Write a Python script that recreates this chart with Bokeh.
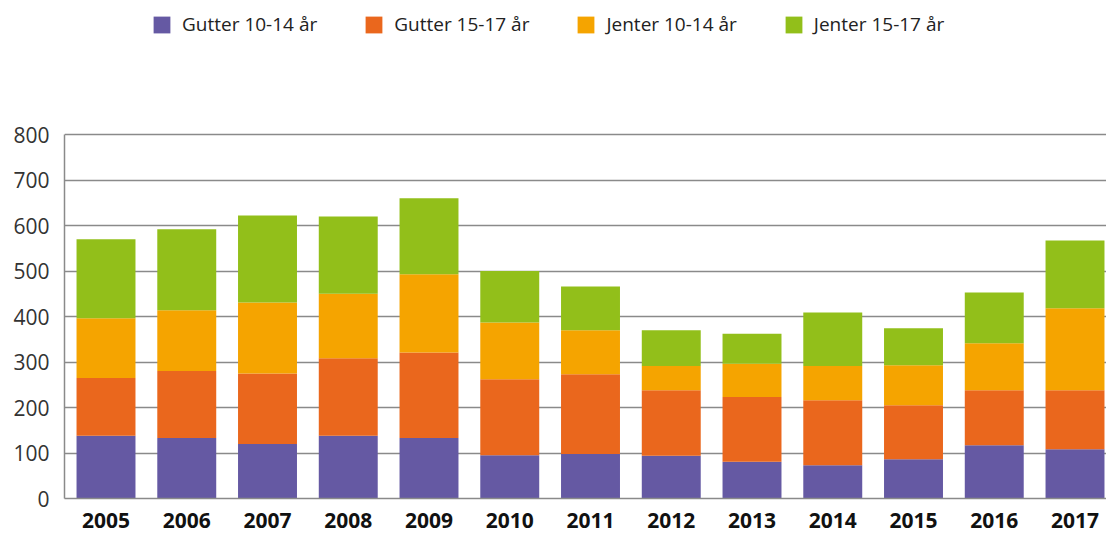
from bokeh.plotting import figure
from bokeh.models import Range1d, FixedTicker, Legend, LegendItem, ColumnDataSource
from bokeh.embed import file_html
from bokeh.resources import INLINE

years = ["2005", "2006", "2007", "2008", "2009", "2010", "2011",
         "2012", "2013", "2014", "2015", "2016", "2017"]
gutter_10_14 = [138, 133, 120, 138, 133, 95, 98, 94, 81, 73, 86, 117, 108]
gutter_15_17 = [127, 147, 155, 170, 188, 167, 175, 144, 142, 143, 119, 121, 130]
jenter_10_14 = [131, 134, 156, 142, 172, 125, 97, 53, 73, 75, 88, 103, 180]
jenter_15_17 = [174, 178, 191, 170, 167, 113, 96, 79, 66, 118, 81, 112, 149]

series_names = ["Gutter 10-14 år", "Gutter 15-17 år", "Jenter 10-14 år", "Jenter 15-17 år"]
series_keys = ["g1014", "g1517", "j1014", "j1517"]
colors = ["#6559A3", "#EA671D", "#F5A400", "#92BF1A"]
y_ticks = [0, 100, 200, 300, 400, 500, 600, 700, 800]

xs = list(range(len(years)))
source = ColumnDataSource(data=dict(x=xs, g1014=gutter_10_14, g1517=gutter_15_17,
                                    j1014=jenter_10_14, j1517=jenter_15_17))

FONT = "Open Sans"
W, H = 1106, 533
FRAME_LEFT, FRAME_BOTTOM_PX, TOP800_PX = 64, 498, 134
y_end = 800 * FRAME_BOTTOM_PX / (FRAME_BOTTOM_PX - TOP800_PX)

p = figure(width=W, height=H, output_backend="svg", toolbar_location=None,
           x_range=Range1d(-0.514, 12.39), y_range=Range1d(0, y_end),
           min_border_left=FRAME_LEFT, min_border_right=0, min_border_top=0,
           min_border_bottom=H - FRAME_BOTTOM_PX)

renderers = p.vbar_stack(series_keys, x="x", width=0.73, source=source,
                         color=colors, line_color=None)

p.outline_line_color = None
p.background_fill_color = "white"
p.border_fill_color = "white"

# grid
p.xgrid.grid_line_color = None
p.ygrid.ticker = FixedTicker(ticks=y_ticks)
p.ygrid.grid_line_color = "#8a8a8a"
p.ygrid.grid_line_width = 1.5

# y axis
p.yaxis.ticker = FixedTicker(ticks=y_ticks)
p.yaxis.bounds = (0, 800)
p.yaxis.axis_line_color = "#8a8a8a"
p.yaxis.axis_line_width = 1.5
p.yaxis.major_tick_line_color = None
p.yaxis.minor_tick_line_color = None
p.yaxis.major_tick_in = 0
p.yaxis.major_tick_out = 0
p.yaxis.major_label_standoff = 15
p.yaxis.major_label_text_font = FONT
p.yaxis.major_label_text_font_size = "21px"
p.yaxis.major_label_text_color = "#333333"

# x axis
p.xaxis.ticker = FixedTicker(ticks=xs)
p.xaxis.major_label_overrides = {i: y for i, y in zip(xs, years)}
p.xaxis.axis_line_color = "#8a8a8a"
p.xaxis.axis_line_width = 1.5
p.xaxis.major_tick_line_color = None
p.xaxis.minor_tick_line_color = None
p.xaxis.major_tick_in = 0
p.xaxis.major_tick_out = 0
p.xaxis.major_label_standoff = 14
p.xaxis.major_label_text_font = FONT
p.xaxis.major_label_text_font_style = "bold"
p.xaxis.major_label_text_font_size = "21px"
p.xaxis.major_label_text_color = "#111111"

legend = Legend(items=[LegendItem(label=n, renderers=[r]) for n, r in zip(series_names, renderers)],
                orientation="horizontal", location=(87, 461),
                label_text_font=FONT, label_text_font_size="19px", label_text_color="#222222",
                glyph_width=21, glyph_height=21, label_standoff=10, spacing=46,
                border_line_color=None, background_fill_alpha=0, padding=0, margin=0)
p.add_layout(legend, "center")

open("out.html", "w").write(file_html(p, INLINE))
